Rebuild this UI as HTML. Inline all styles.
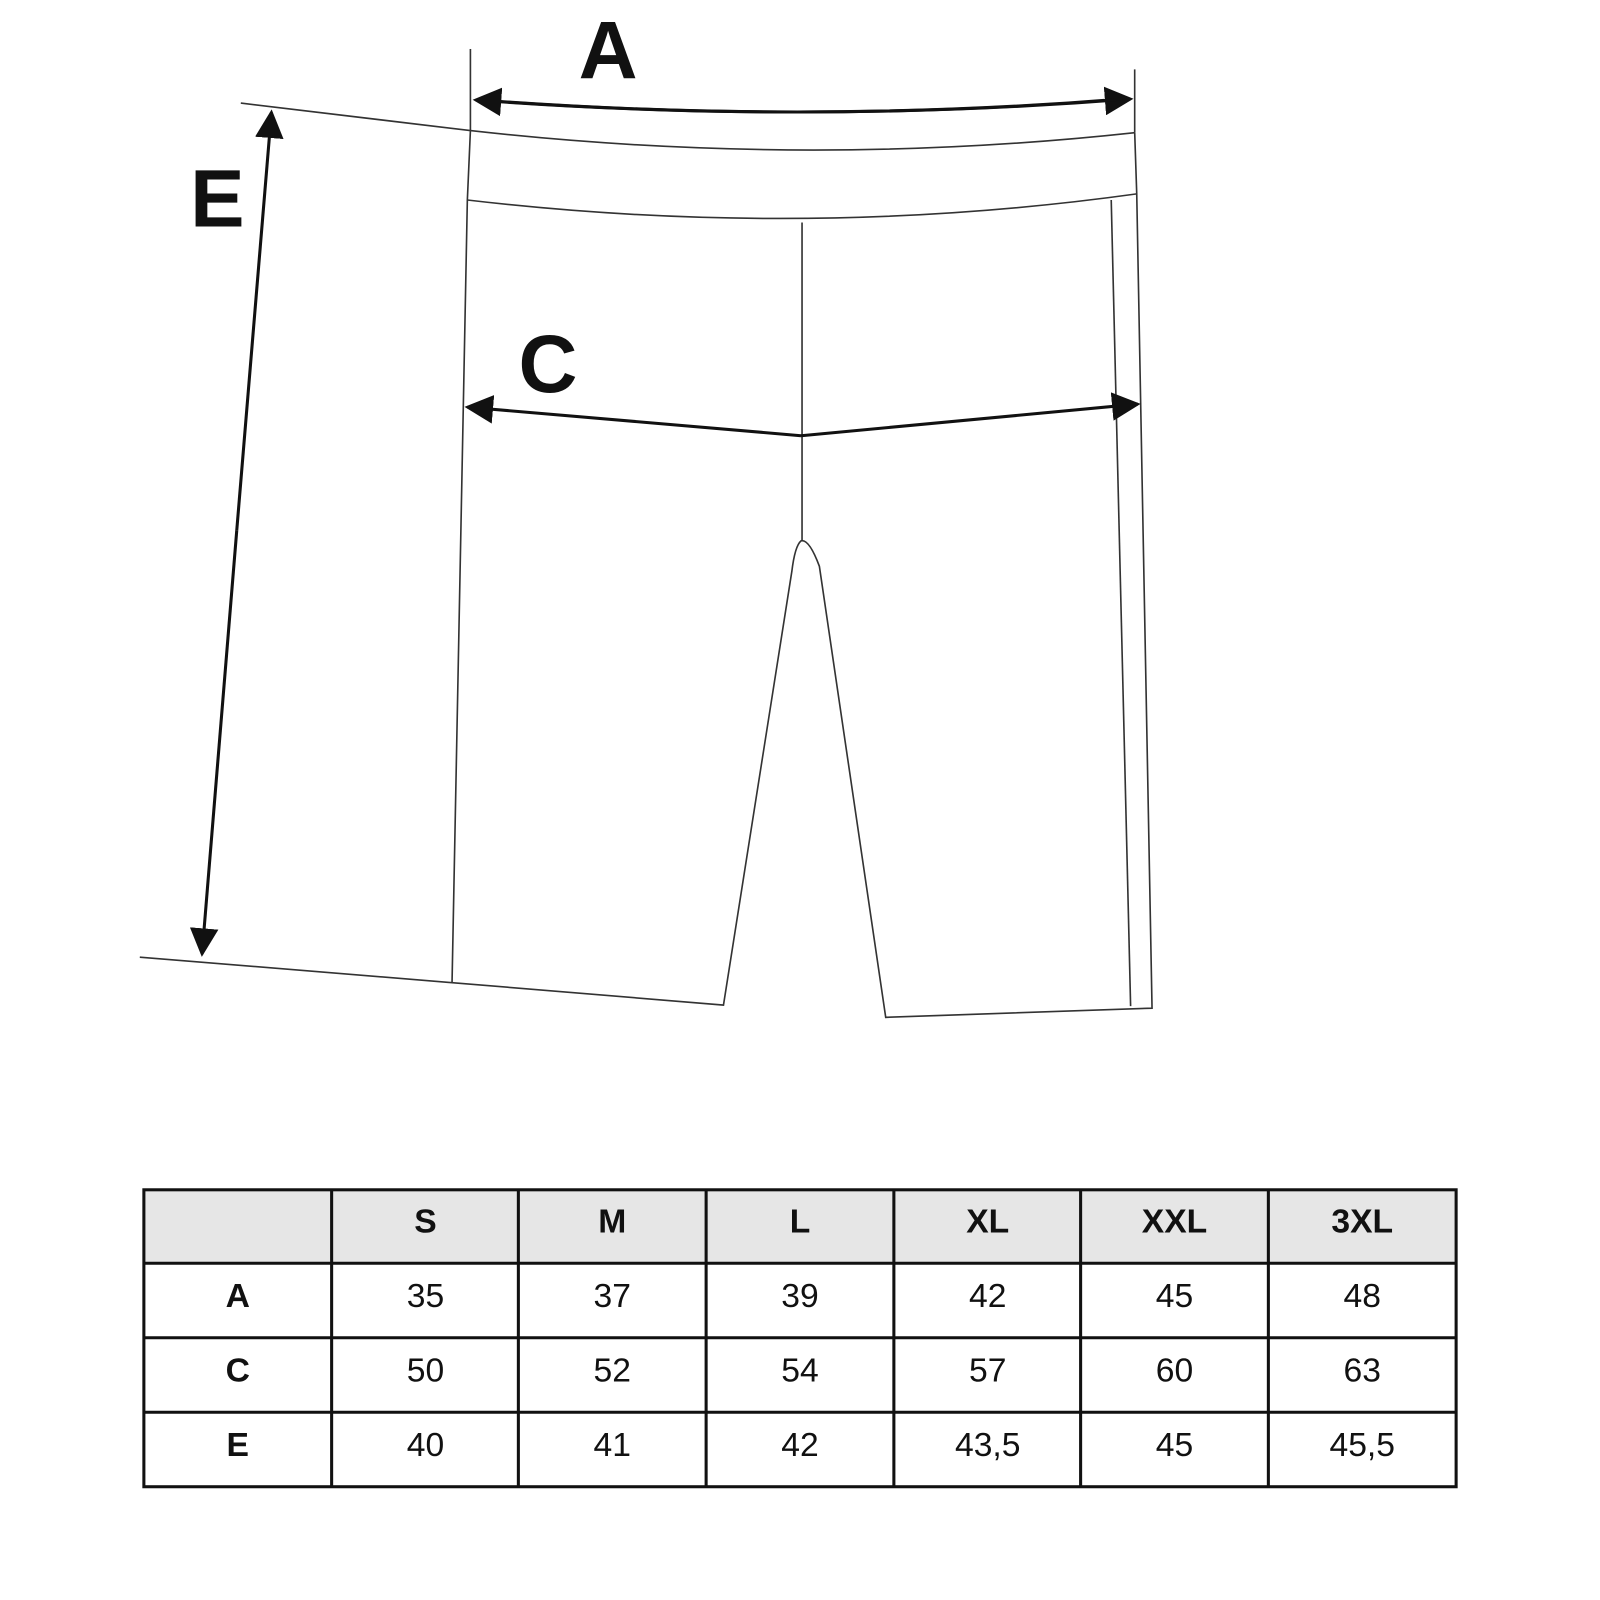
<!DOCTYPE html>
<html><head><style>html,body{margin:0;padding:0;background:#fff}svg{display:block}</style></head>
<body>
<svg width="1600" height="1600" viewBox="0 0 1568 1568" xmlns="http://www.w3.org/2000/svg">
<defs><marker id="ah" viewBox="0 0 10 10" refX="9" refY="5" markerWidth="28" markerHeight="28" markerUnits="userSpaceOnUse" orient="auto"><path d="M0,0 L10,5 L0,10 z" fill="#111"/></marker></defs>
<g fill="none" stroke="#333" stroke-width="1.6">
<line x1="461" y1="48" x2="461" y2="128"/>
<line x1="1112" y1="68" x2="1112" y2="130"/>
<path d="M461,128 Q790,165 1112,130"/>
<path d="M461,128 L458,196 L443,963"/>
<path d="M458,196 Q790,235 1114,190"/>
<path d="M1112,130 L1114,190 L1129,988 L868,997 L803,555 Q793,528 785,530 Q779,535 776,560 L709,985 L443,963"/>
<path d="M1089,196 L1108,986"/>
<line x1="786" y1="218" x2="786" y2="530"/>
<line x1="236" y1="101" x2="461" y2="128"/>
<line x1="137" y1="938" x2="443" y2="963"/>
</g>
<g fill="none" stroke="#111" stroke-width="3">
<path d="M470,98 Q790,122 1108,97" marker-end="url(#ah)"/>
<path d="M1100,97 Q790,122 466,98" marker-end="url(#ah)"/>
<path d="M785,427 L458,399" marker-end="url(#ah)"/>
<path d="M785,427 L1115,396" marker-end="url(#ah)"/>
<line x1="232" y1="520" x2="266" y2="110" marker-end="url(#ah)"/>
<line x1="232" y1="520" x2="198" y2="935" marker-end="url(#ah)"/>
</g>
<g font-family="Liberation Sans, sans-serif" font-weight="bold" fill="#111" font-size="80">
<text x="596" y="77" text-anchor="middle">A</text>
<text x="213" y="222" text-anchor="middle">E</text>
<text x="537" y="384" text-anchor="middle">C</text>
</g>
<rect x="141" y="1166" width="1286" height="72" fill="#e6e6e6"/>
<g stroke="#111" stroke-width="3" fill="none">
<rect x="141" y="1166" width="1286" height="291"/>
<line x1="141" y1="1238" x2="1427" y2="1238"/>
<line x1="141" y1="1311" x2="1427" y2="1311"/>
<line x1="141" y1="1384" x2="1427" y2="1384"/>
<line x1="325" y1="1166" x2="325" y2="1457"/>
<line x1="508" y1="1166" x2="508" y2="1457"/>
<line x1="692" y1="1166" x2="692" y2="1457"/>
<line x1="876" y1="1166" x2="876" y2="1457"/>
<line x1="1059" y1="1166" x2="1059" y2="1457"/>
<line x1="1243" y1="1166" x2="1243" y2="1457"/>
</g>
<g font-family="Liberation Sans, sans-serif" font-size="33" fill="#111" text-anchor="middle">
<g font-weight="bold">
<text x="417" y="1208">S</text><text x="600" y="1208">M</text><text x="784" y="1208">L</text><text x="968" y="1208">XL</text><text x="1151" y="1208">XXL</text><text x="1335" y="1208">3XL</text>
<text x="233" y="1281">A</text><text x="233" y="1354">C</text><text x="233" y="1427">E</text>
</g>
<text x="417" y="1281">35</text><text x="600" y="1281">37</text><text x="784" y="1281">39</text><text x="968" y="1281">42</text><text x="1151" y="1281">45</text><text x="1335" y="1281">48</text>
<text x="417" y="1354">50</text><text x="600" y="1354">52</text><text x="784" y="1354">54</text><text x="968" y="1354">57</text><text x="1151" y="1354">60</text><text x="1335" y="1354">63</text>
<text x="417" y="1427">40</text><text x="600" y="1427">41</text><text x="784" y="1427">42</text><text x="968" y="1427">43,5</text><text x="1151" y="1427">45</text><text x="1335" y="1427">45,5</text>
</g>
</svg>
</body></html>
